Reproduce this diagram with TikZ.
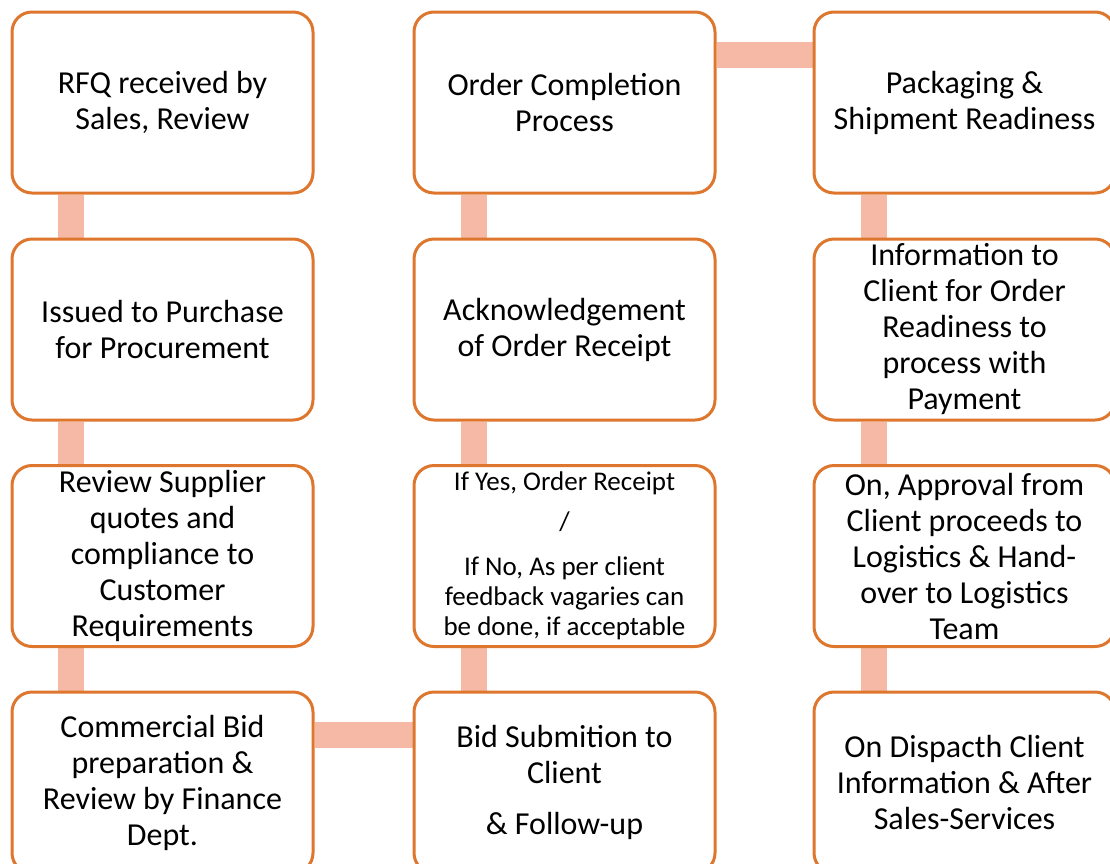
\documentclass[tikz,border=0pt]{standalone}
\usepackage{fontspec}
\setmainfont{Carlito}
\usetikzlibrary{backgrounds}
\definecolor{boxorange}{RGB}{222,118,45}
\definecolor{barpeach}{RGB}{245,185,165}

\begin{document}
\begin{tikzpicture}[x=1pt, y=-1pt,
	stage/.style={draw=boxorange, line width=3pt, fill=white, rounded corners=20pt,
		minimum width=301pt, minimum height=181pt, inner sep=0pt, align=center,
		font=\fontsize{32}{36}\selectfont},
	small/.style={font=\fontsize{27}{30}\selectfont},
	link/.style={draw=barpeach, line width=26pt}]
		% page
		\path[use as bounding box, clip] (0,0) rectangle (1110,863);
		% first column
		\node[stage] (rfq) at (162.5,102.5) {RFQ received by\\Sales, Review};
		\node[stage] (issued) at (162.5,329.5) {Issued to Purchase\\for Procurement};
		\node[stage] (quotes) at (162.5,556) {Review Supplier\\quotes and\\compliance to\\Customer\\Requirements};
		\node[stage] (bidprep) at (162.5,782.5) {Commercial Bid\\preparation \&\\Review by Finance\\Dept.};
		% second column
		\node[stage] (bidsub) at (564.5,782.5) {Bid Submition to\\Client\\[15pt]\& Follow-up};
		\node[stage, small] (receipt) at (564.5,556) {If Yes, Order Receipt\\[10pt]/\\[15pt]If No, As per client\\feedback vagaries can\\be done, if acceptable};
		\node[stage] (ack) at (564.5,329.5) {Acknowledgement\\of Order Receipt};
		\node[stage] (ordcomp) at (564.5,102.5) {Order Completion\\Process};
		% third column
		\node[stage] (pack) at (964.5,102.5) {Packaging \&\\Shipment Readiness};
		\node[stage] (info) at (964.5,329.5) {Information to\\Client for Order\\Readiness to\\process with\\Payment};
		\node[stage] (approval) at (964.5,556) {On, Approval from\\Client proceeds to\\Logistics \& Hand-\\over to Logistics\\Team};
		\node[stage] (dispatch) at (964.5,782.5) {On Dispacth Client\\Information \& After\\Sales-Services};
		% links
		\begin{scope}[on background layer]
			\draw[link] ([xshift=60pt]rfq.south west) -- ([xshift=60pt]issued.north west);
			\draw[link] ([xshift=60pt]issued.south west) -- ([xshift=60pt]quotes.north west);
			\draw[link] ([xshift=60pt]quotes.south west) -- ([xshift=60pt]bidprep.north west);
			\draw[link] ([yshift=-44pt]bidprep.north east) -- ([yshift=-44pt]bidsub.north west);
			\draw[link] ([xshift=61pt]bidsub.north west) -- ([xshift=61pt]receipt.south west);
			\draw[link] ([xshift=61pt]receipt.north west) -- ([xshift=61pt]ack.south west);
			\draw[link] ([xshift=61pt]ack.north west) -- ([xshift=61pt]ordcomp.south west);
			\draw[link] ([yshift=-44pt]ordcomp.north east) -- ([yshift=-44pt]pack.north west);
			\draw[link] ([xshift=61pt]pack.south west) -- ([xshift=61pt]info.north west);
			\draw[link] ([xshift=61pt]info.south west) -- ([xshift=61pt]approval.north west);
			\draw[link] ([xshift=61pt]approval.south west) -- ([xshift=61pt]dispatch.north west);
		\end{scope}
\end{tikzpicture}
\end{document}
